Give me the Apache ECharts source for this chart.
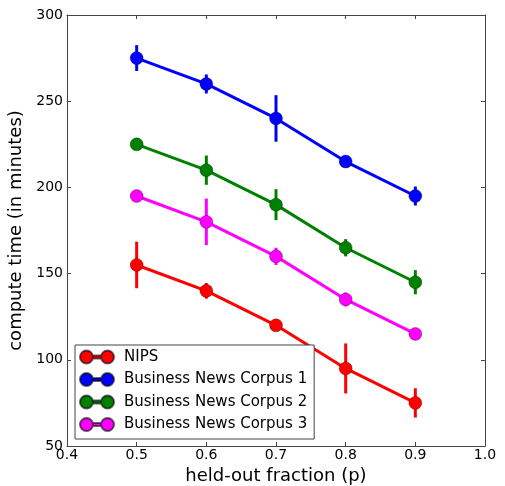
<!DOCTYPE html>
<html>
<head>
<meta charset="utf-8">
<script src="https://cdn.jsdelivr.net/npm/echarts@6/dist/echarts.min.js"></script>
<style>html,body{margin:0;padding:0;background:#fff}#c{width:505px;height:486px}</style>
</head>
<body>
<div id="c"></div>
<script>
var xValues = [0.5, 0.6, 0.7, 0.8, 0.9];
var names = ['NIPS', 'Business News Corpus 1', 'Business News Corpus 2', 'Business News Corpus 3'];
var colors = ['#ff0000', '#0000ff', '#008000', '#ff00ff'];
var nipsVals = [155, 140, 120, 95, 75];
var nipsErr = [13.5, 4.5, 1.5, 14.5, 8.5];
var bnc1Vals = [275, 260, 240, 215, 195];
var bnc1Err = [7.5, 5.5, 13.5, 1.5, 5.5];
var bnc2Vals = [225, 210, 190, 165, 145];
var bnc2Err = [1.5, 8.5, 9, 5, 7];
var bnc3Vals = [195, 180, 160, 135, 115];
var bnc3Err = [1.5, 13.5, 5, 4, 1.5];
var xTicks = [0.4, 0.5, 0.6, 0.7, 0.8, 0.9, 1.0];
var yTicks = [50, 100, 150, 200, 250, 300];

var allVals = [nipsVals, bnc1Vals, bnc2Vals, bnc3Vals];
var allErr = [nipsErr, bnc1Err, bnc2Err, bnc3Err];
var font = 'DejaVu Sans';
var legendIcon = 'path://M0,6.5A6.5,6.5 0 1,1 13,6.5A6.5,6.5 0 1,1 0,6.5Z' +
  'M21,6.5A6.5,6.5 0 1,1 34,6.5A6.5,6.5 0 1,1 21,6.5Z' +
  'M13,5L21,5L21,8L13,8Z';

var series = [];
allVals.forEach(function (vals, i) {
  var errData = xValues.map(function (x, j) { return [x, vals[j] - allErr[i][j], vals[j] + allErr[i][j]]; });
  series.push({
    type: 'custom',
    name: names[i] + ' err',
    z: 2 + i * 2,
    data: errData,
    encode: { x: 0, y: [1, 2] },
    renderItem: function (params, api) {
      var p1 = api.coord([api.value(0), api.value(1)]);
      var p2 = api.coord([api.value(0), api.value(2)]);
      return { type: 'line', shape: { x1: p1[0], y1: p1[1], x2: p2[0], y2: p2[1] }, style: { stroke: colors[i], lineWidth: 3 } };
    },
    silent: true
  });
  series.push({
    type: 'line',
    name: names[i],
    z: 3 + i * 2,
    data: xValues.map(function (x, j) { return [x, vals[j]]; }),
    symbol: 'circle',
    symbolSize: 13,
    showAllSymbol: true,
    lineStyle: { color: colors[i], width: 3 },
    itemStyle: { color: colors[i], borderColor: 'rgba(0,0,0,0.6)', borderWidth: 0.5 },
    animation: false
  });
});

var chart = echarts.init(document.getElementById('c'));
var axisLineStyle = { show: true, lineStyle: { color: '#444', width: 1 } };
var tickStyle = { show: true, inside: true, length: 4, lineStyle: { color: '#444' } };
chart.setOption({
  animation: false,
  backgroundColor: '#fff',
  color: colors,
  grid: { left: 67, right: 20, top: 15, bottom: 40, containLabel: false, outerBoundsMode: 'none' },
  legend: {
    data: names.map(function (n) { return { name: n, icon: legendIcon }; }),
    orient: 'vertical',
    left: 75, top: 345,
    padding: [4.5, 7, 7, 4],
    itemWidth: 34, itemHeight: 13, itemGap: 7.5,
    backgroundColor: '#fff',
    borderColor: '#444', borderWidth: 1, borderRadius: 0,
    textStyle: { fontFamily: font, fontSize: 15, color: '#000', padding: [0, 0, 0, 5] }
  },
  xAxis: [{
    type: 'value', min: 0.4, max: 1.0, interval: 0.1,
    name: 'held-out fraction (p)', nameLocation: 'middle', nameGap: 21,
    nameTextStyle: { fontFamily: font, fontSize: 18, color: '#000' },
    axisLine: axisLineStyle,
    axisTick: tickStyle,
    axisLabel: { fontFamily: font, fontSize: 14, color: '#000', margin: 2, formatter: function (v) { return v.toFixed(1); } },
    splitLine: { show: false }
  }, {
    type: 'value', position: 'top', min: 0.4, max: 1.0, interval: 0.1,
    axisLine: axisLineStyle,
    axisTick: tickStyle,
    axisLabel: { show: false }, splitLine: { show: false }
  }],
  yAxis: [{
    type: 'value', min: 50, max: 300, interval: 50,
    name: 'compute time (in minutes)', nameLocation: 'middle', nameGap: 33,
    nameTextStyle: { fontFamily: font, fontSize: 18, color: '#000' },
    axisLine: axisLineStyle,
    axisTick: tickStyle,
    axisLabel: { fontFamily: font, fontSize: 14, color: '#000', margin: 4 },
    splitLine: { show: false }
  }, {
    type: 'value', position: 'right', min: 50, max: 300, interval: 50,
    axisLine: axisLineStyle,
    axisTick: tickStyle,
    axisLabel: { show: false }, splitLine: { show: false }
  }],
  series: series
});
</script>
</body>
</html>
